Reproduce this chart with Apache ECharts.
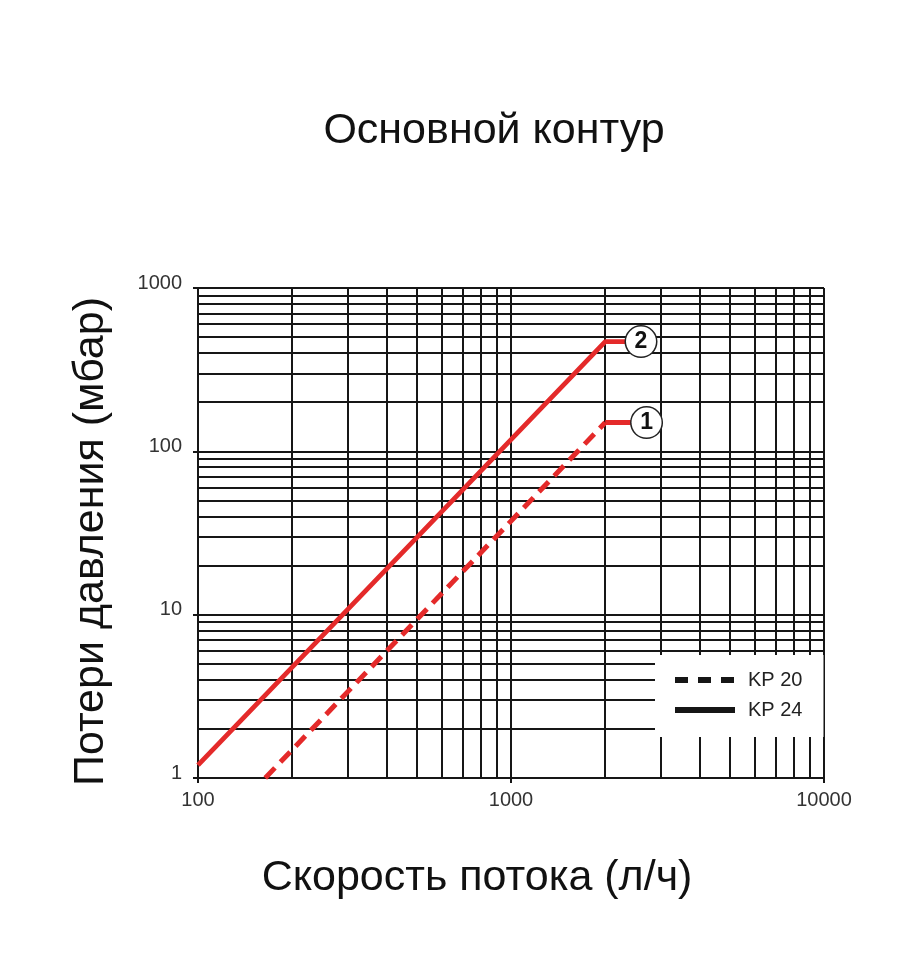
<!DOCTYPE html>
<html>
<head>
<meta charset="utf-8">
<script src="https://cdn.jsdelivr.net/npm/echarts@6/dist/echarts.min.js"></script>
<style>
  html, body { margin: 0; padding: 0; background: #ffffff; }
  #chart { width: 900px; height: 969px; }
</style>
</head>
<body>
<div id="chart"></div>
<script>
// ---- data ----
const chartTitle = 'Основной контур';
const xTitle = 'Скорость потока (л/ч)';
const yTitle = 'Потери давления (мбар)';

// KP 24 (solid, curve 2): flow l/h vs pressure loss mbar
const flowKP24 = [100, 2000, 2400];
const lossKP24 = [1.2, 470, 470];
// KP 20 (dashed, curve 1)
const flowKP20 = [164, 2000];
const lossKP20 = [1.0, 150];
// KP 20 end bar
const flowKP20End = [2000, 2500];
const lossKP20End = [150, 150];

// minor grid values (log paper)
const xMinor = [200, 300, 400, 500, 600, 700, 800, 900, 2000, 3000, 4000, 5000, 6000, 7000, 8000, 9000];
const yMinor = [2, 3, 4, 5, 6, 7, 8, 9, 20, 30, 40, 50, 60, 70, 80, 90, 200, 300, 400, 500, 600, 700, 800, 900];

const FONT = '"Liberation Sans", Arial, Helvetica, sans-serif';
const RED = '#e42a2a';
const INK = '#161616';

const pairs = (xs, ys) => xs.map((x, i) => [x, ys[i]]);

const chart = echarts.init(document.getElementById('chart'), null, { renderer: 'canvas' });

const gridMarks = xMinor.map(v => ({ xAxis: v })).concat(yMinor.map(v => ({ yAxis: v })));

const circleLabel = (txt) => ({
  show: true,
  formatter: txt,
  distance: 11,
  width: 28,
  height: 28,
  lineHeight: 28,
  align: 'center',
  verticalAlign: 'middle',
  backgroundColor: '#ffffff',
  borderColor: '#222222',
  borderWidth: 1.5,
  borderRadius: 16,
  padding: [1, 1, 1, 1],
  color: '#111111',
  fontSize: 23,
  fontWeight: 'bold',
  fontFamily: FONT
});

const plainNum = (v) => String(Math.round(v));

const option = {
  animation: false,
  backgroundColor: '#ffffff',
  title: {
    text: chartTitle,
    left: 489,
    top: 105,
    textAlign: 'center',
    textStyle: { fontFamily: FONT, fontSize: 43, fontWeight: 'normal', color: '#111111' }
  },
  grid: { left: 198, right: 76, top: 288, bottom: 191, containLabel: false },
  legend: {
    orient: 'vertical',
    left: 655,
    top: 655,
    z: 20,
    backgroundColor: '#ffffff',
    padding: [15, 21, 17, 17],
    itemWidth: 60,
    itemHeight: 14,
    itemGap: 10,
    textStyle: { fontFamily: FONT, fontSize: 20, color: '#222222', padding: [0, 0, 0, 8] },
    data: [
      { name: 'KP 20', itemStyle: { opacity: 0 }, lineStyle: { color: INK, width: 6, type: [13, 10] } },
      { name: 'KP 24', itemStyle: { opacity: 0 }, lineStyle: { color: INK, width: 6, type: 'solid' } }
    ]
  },
  xAxis: {
    type: 'log',
    logBase: 10,
    min: 100,
    max: 10000,
    name: xTitle,
    nameLocation: 'middle',
    nameGap: 79,
    nameTextStyle: { fontFamily: FONT, fontSize: 43, color: '#111111', padding: [0, 68, 0, 0] },
    axisLine: { show: true, lineStyle: { color: INK, width: 2 } },
    axisTick: { show: true, length: 5, lineStyle: { color: INK, width: 2 } },
    axisLabel: { fontFamily: FONT, fontSize: 20, color: '#333333', margin: 12, formatter: plainNum },
    splitLine: { show: true, lineStyle: { color: INK, width: 2 } },
    minorTick: { show: false },
    minorSplitLine: { show: false }
  },
  yAxis: {
    type: 'log',
    logBase: 10,
    min: 1,
    max: 1000,
    name: yTitle,
    nameLocation: 'middle',
    nameGap: 85,
    nameTextStyle: { fontFamily: FONT, fontSize: 43, color: '#111111', padding: [0, 17, 0, 0] },
    axisLine: { show: true, lineStyle: { color: INK, width: 2 } },
    axisTick: { show: true, length: 5, lineStyle: { color: INK, width: 2 } },
    axisLabel: { fontFamily: FONT, fontSize: 20, color: '#333333', margin: 16, verticalAlign: 'bottom', lineHeight: 10, formatter: plainNum },
    splitLine: { show: true, lineStyle: { color: INK, width: 2 } },
    minorTick: { show: false },
    minorSplitLine: { show: false }
  },
  series: [
    {
      name: 'grid',
      type: 'line',
      data: [],
      z: 1,
      silent: true,
      markLine: {
        silent: true,
        z: 1,
        symbol: ['none', 'none'],
        label: { show: false },
        lineStyle: { color: INK, width: 2, type: 'solid' },
        emphasis: { disabled: true },
        data: gridMarks
      }
    },
    {
      name: 'KP 24',
      type: 'line',
      z: 5,
      symbol: 'none',
      data: pairs(flowKP24, lossKP24),
      lineStyle: { color: RED, width: 4.8, type: 'solid', cap: 'butt' },
      itemStyle: { color: RED },
      endLabel: circleLabel('2')
    },
    {
      name: 'KP 20',
      type: 'line',
      z: 5,
      symbol: 'none',
      data: pairs(flowKP20, lossKP20),
      lineStyle: { color: RED, width: 5, type: [14, 8], cap: 'butt' },
      itemStyle: { color: RED }
    },
    {
      name: 'KP 20 end',
      type: 'line',
      z: 5,
      symbol: 'none',
      data: pairs(flowKP20End, lossKP20End),
      lineStyle: { color: RED, width: 5, type: 'solid', cap: 'butt' },
      itemStyle: { color: RED },
      endLabel: circleLabel('1')
    }
  ]
};

chart.setOption(option);
</script>
</body>
</html>
